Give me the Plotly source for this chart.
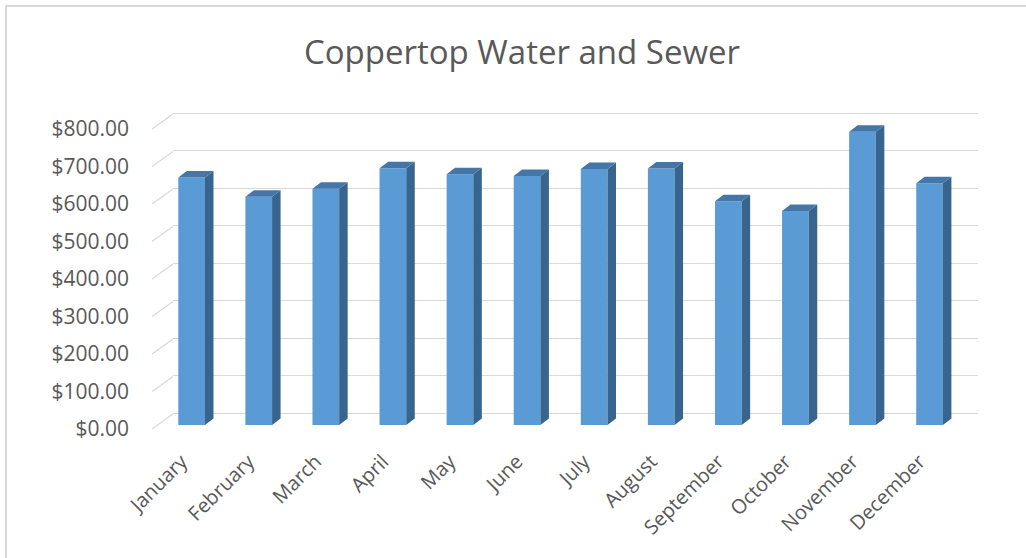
import plotly.graph_objects as go

# monthly bills
months = ["January", "February", "March", "April", "May", "June",
          "July", "August", "September", "October", "November", "December"]
bills = [660, 609, 630, 685, 669, 664, 683, 684, 597, 571, 782, 645]
y_ticks = [0, 100, 200, 300, 400, 500, 600, 700, 800]

W, H = 1026, 558
L, R, T, B = 100, 48, 100, 113
PW, PH = W - L - R, H - T - B
SCALE = 0.375  # px per dollar

FRONT = "#5B9BD5"
SIDE = "#38658e"
TOP = "#4576a8"
GRID = "#d9d9d9"
TEXT = "#595959"
FONT = "Open Sans, Noto Sans, sans-serif"


def px_x(px):
    return (px - L) / PW


def px_y(py):
    return (H - B - py) / PH


def y_range(zero_px):
    # axis range so that value 0 sits at pixel row zero_px
    return [-(H - B - zero_px) / SCALE, (zero_px - T) / SCALE]


idx = list(range(len(months)))
bar_off, bar_w = -0.421, 0.398
dx = 8.5 / 67.1          # depth of a column, in category units
dy = 6.5 / SCALE         # depth of a column, in dollars

side_x, side_y, top_x, top_y = [], [], [], []
for i, v in zip(idx, bills):
    xl = i + bar_off
    xr = xl + bar_w
    side_x += [xr, xr + dx, xr + dx, xr, xr, None]
    side_y += [0, dy, v + dy, v, 0, None]
    top_x += [xl, xl + dx, xr + dx, xr, xl, None]
    top_y += [v, v + dy, v + dy, v, v, None]

fig = go.Figure()

# side wall gridlines (diagonals from the front labels to the back wall)
diag_x, diag_y = [], []
for t in y_ticks:
    diag_x += [0, 1, None]
    diag_y += [t, t + 15 / SCALE, None]
fig.add_trace(go.Scatter(x=diag_x, y=diag_y, mode="lines",
                         line=dict(color=GRID, width=1.3),
                         xaxis="x2", yaxis="y", hoverinfo="skip"))

# invisible trace so the back-wall grid axis gets drawn
fig.add_trace(go.Scatter(x=[0], y=[0], mode="markers", marker=dict(opacity=0),
                         xaxis="x", yaxis="y2", hoverinfo="skip"))

fig.add_trace(go.Bar(x=idx, y=bills, width=bar_w, offset=bar_off,
                     marker=dict(color=FRONT, line=dict(width=0)),
                     xaxis="x", yaxis="y3", name="Bill"))
fig.add_trace(go.Scatter(x=side_x, y=side_y, fill="toself", fillcolor=SIDE,
                         mode="lines", line=dict(width=0, color=SIDE),
                         xaxis="x", yaxis="y3", hoverinfo="skip"))
fig.add_trace(go.Scatter(x=top_x, y=top_y, fill="toself", fillcolor=TOP,
                         mode="lines", line=dict(width=0, color=TOP),
                         xaxis="x", yaxis="y3", hoverinfo="skip"))

fig.update_layout(
    width=W, height=H,
    margin=dict(l=L, r=R, t=T, b=B),
    paper_bgcolor="white", plot_bgcolor="rgba(0,0,0,0)",
    showlegend=False,
    font=dict(family=FONT, color=TEXT),
    title=dict(text="Coppertop Water and Sewer", xref="container", yref="container",
               x=522 / W, y=1 - 52 / H, xanchor="center", yanchor="middle",
               font=dict(size=33, color=TEXT)),
    xaxis=dict(domain=[px_x(173), px_x(978)], range=[-0.5, 11.5], anchor="y2",
               tickvals=idx, ticktext=months, tickangle=-45,
               ticklabelshift=-25, tickfont=dict(size=20, color=TEXT),
               showgrid=False, zeroline=False, showline=False, ticks=""),
    xaxis2=dict(domain=[px_x(152), px_x(173)], range=[0, 1], anchor="y",
                visible=False),
    yaxis=dict(range=y_range(429), anchor="free", position=px_x(129),
               tickvals=y_ticks, tickformat="$,.2f",
               tickfont=dict(size=21, color=TEXT),
               showgrid=False, zeroline=False, showline=False, ticks=""),
    yaxis2=dict(range=y_range(413), overlaying="y", anchor="x",
                tickvals=y_ticks, showticklabels=False,
                showgrid=True, gridcolor=GRID, gridwidth=1.3,
                zeroline=False, showline=False, ticks=""),
    yaxis3=dict(range=y_range(425), overlaying="y", anchor="x",
                visible=False),
    shapes=[dict(type="rect", xref="paper", yref="paper",
                 x0=px_x(6), x1=px_x(1040), y0=px_y(575), y1=px_y(6),
                 line=dict(color="#d9d9d9", width=2), layer="below")],
)

# page margin off so the figure sits at the top-left corner of the window
fig.write_html("out.html", config={"displayModeBar": False},
               post_script="document.body.style.margin='0px';")
